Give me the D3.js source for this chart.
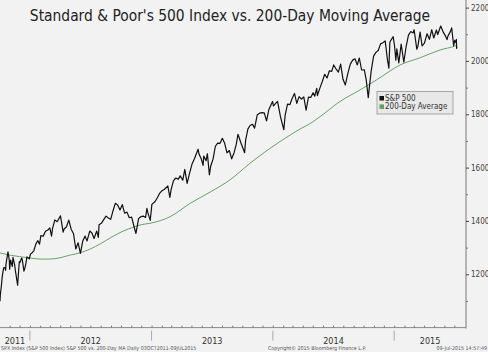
<!DOCTYPE html>
<html><head><meta charset="utf-8">
<script src="https://cdn.jsdelivr.net/npm/d3@7"></script>
<style>
html,body{margin:0;padding:0;background:#f2f2f2;}
svg{display:block;}
text{font-family:"DejaVu Sans Condensed","DejaVu Sans",sans-serif;font-stretch:condensed;}
</style></head>
<body>
<svg id="c" width="488" height="352"></svg>
<script>
const spxDates = ["2011-10-03","2011-10-04","2011-10-07","2011-10-10","2011-10-14","2011-10-18","2011-10-20","2011-10-21","2011-10-27","2011-10-31","2011-11-01","2011-11-04","2011-11-09","2011-11-11","2011-11-16","2011-11-18","2011-11-25","2011-11-30","2011-12-02","2011-12-07","2011-12-09","2011-12-14","2011-12-16","2011-12-20","2011-12-23","2011-12-30",
"2012-01-03","2012-01-06","2012-01-13","2012-01-19","2012-01-25","2012-01-30","2012-02-03","2012-02-10","2012-02-17","2012-02-24","2012-03-01","2012-03-06","2012-03-09","2012-03-16","2012-03-23","2012-04-02","2012-04-10","2012-04-13","2012-04-20","2012-04-27","2012-05-04","2012-05-11","2012-05-18","2012-05-25","2012-06-01","2012-06-08","2012-06-15","2012-06-21","2012-06-29","2012-07-06","2012-07-12","2012-07-20","2012-07-25","2012-07-27","2012-08-03","2012-08-10","2012-08-17","2012-08-24","2012-08-31","2012-09-07","2012-09-14","2012-09-21","2012-09-28","2012-10-05","2012-10-12","2012-10-19","2012-10-26","2012-11-02","2012-11-09","2012-11-15","2012-11-23","2012-11-30","2012-12-07","2012-12-14","2012-12-18","2012-12-21","2012-12-28",
"2013-01-02","2013-01-11","2013-01-18","2013-01-25","2013-02-01","2013-02-08","2013-02-19","2013-02-25","2013-03-01","2013-03-08","2013-03-15","2013-03-22","2013-03-28","2013-04-05","2013-04-11","2013-04-18","2013-04-26","2013-05-03","2013-05-10","2013-05-21","2013-05-24","2013-05-31","2013-06-05","2013-06-07","2013-06-14","2013-06-18","2013-06-24","2013-06-28","2013-07-05","2013-07-12","2013-07-19","2013-07-26","2013-08-02","2013-08-09","2013-08-16","2013-08-23","2013-08-30","2013-09-06","2013-09-13","2013-09-18","2013-09-27","2013-10-08","2013-10-11","2013-10-18","2013-10-25","2013-11-01","2013-11-07","2013-11-15","2013-11-22","2013-11-29","2013-12-06","2013-12-13","2013-12-20","2013-12-31",
"2014-01-03","2014-01-10","2014-01-15","2014-01-24","2014-02-03","2014-02-07","2014-02-14","2014-02-21","2014-02-28","2014-03-07","2014-03-14","2014-03-21","2014-03-28","2014-04-04","2014-04-11","2014-04-18","2014-04-25","2014-05-02","2014-05-07","2014-05-13","2014-05-15","2014-05-23","2014-05-30","2014-06-06","2014-06-13","2014-06-20","2014-06-27","2014-07-03","2014-07-11","2014-07-17","2014-07-24","2014-07-31","2014-08-07","2014-08-15","2014-08-22","2014-08-29","2014-09-05","2014-09-12","2014-09-18","2014-09-25","2014-10-03","2014-10-09","2014-10-15","2014-10-17","2014-10-24","2014-10-31","2014-11-07","2014-11-14","2014-11-21","2014-11-28","2014-12-05","2014-12-12","2014-12-16","2014-12-19","2014-12-29",
"2015-01-02","2015-01-06","2015-01-09","2015-01-15","2015-01-22","2015-01-30","2015-02-06","2015-02-13","2015-02-20","2015-02-27","2015-03-02","2015-03-10","2015-03-13","2015-03-20","2015-03-26","2015-04-02","2015-04-10","2015-04-17","2015-04-24","2015-04-30","2015-05-08","2015-05-12","2015-05-21","2015-05-29","2015-06-05","2015-06-09","2015-06-12","2015-06-19","2015-06-23","2015-06-29","2015-07-02","2015-07-06","2015-07-07","2015-07-08","2015-07-09"];
const spxCloses = [1099,1123,1155,1194,1224,1225,1215,1238,1284,1253,1219,1253,1229,1263,1236,1216,1159,1247,1244,1261,1255,1212,1219,1241,1265,1258,
1277,1278,1289,1314,1326,1313,1345,1343,1361,1366,1374,1343,1371,1404,1397,1419,1358,1370,1378,1403,1369,1353,1295,1318,1278,1325,1343,1325,1362,1354,1334,1362,1338,1386,1391,1405,1418,1411,1406,1438,1466,1460,1441,1461,1429,1433,1412,1414,1380,1353,1409,1416,1418,1413,1447,1430,1402,
1462,1472,1486,1503,1513,1518,1531,1488,1518,1551,1561,1556,1569,1553,1593,1541,1582,1614,1633,1669,1650,1631,1608,1643,1626,1652,1573,1606,1632,1680,1692,1691,1710,1691,1655,1664,1633,1655,1688,1725,1692,1656,1703,1745,1759,1762,1748,1798,1804,1806,1805,1775,1818,1848,
1831,1842,1848,1790,1742,1797,1838,1836,1859,1878,1841,1866,1857,1865,1815,1864,1863,1881,1868,1897,1870,1900,1924,1950,1936,1963,1961,1985,1968,1958,1988,1931,1910,1955,1988,2003,2008,1985,2011,1966,1967,1928,1862,1887,1964,2018,2032,2039,2064,2068,2075,2002,1973,2071,2091,
2058,2003,2045,1993,2063,1995,2055,2097,2110,2105,2117,2044,2053,2108,2056,2067,2102,2081,2117,2086,2116,2099,2131,2107,2092,2080,2094,2110,2124,2057,2077,2068,2081,2047,2052];

const maDates = ["2011-10-03","2011-11-01","2011-12-01","2012-01-01","2012-02-01","2012-03-01","2012-04-01","2012-05-01","2012-06-04","2012-07-01","2012-08-01","2012-09-01","2012-10-01","2012-11-01","2012-11-15","2012-12-01","2012-12-27","2013-02-26","2013-04-27","2013-06-26","2013-08-25","2013-10-24","2013-12-23","2014-02-22","2014-03-24","2014-04-23","2014-05-23","2014-07-22","2014-09-20","2014-11-09","2015-01-19","2015-03-20","2015-05-19","2015-07-03","2015-07-09"];
const maValues = [1280,1272,1266,1261,1257,1257,1262,1272,1282,1295,1315,1338,1358,1374,1380,1386,1391,1416,1466,1508,1554,1616,1672,1722,1745,1765,1791,1848,1891,1929,1985,2012,2041,2056,2059];

const yTicks = [1200,1400,1600,1800,2000,2200];
const yMinor = [1100,1300,1500,1700,1900,2100];
const yearLabels = ["2011","2012","2013","2014","2015"];

const legendLabels = ["S&P 500","200-Day Average"];
const titleText = "Standard & Poor's 500 Index vs. 200-Day Moving Average";
const footLeft = "SPX Index (S&P 500 Index) S&P 500 vs. 200-Day MA  Daily 03OCT2011-09JUL2015";
const footMid = "Copyright\u00a9 2015 Bloomberg Finance L.P.";
const footRight = "09-Jul-2015 14:57:49";

const parse = d3.timeParse("%Y-%m-%d");
const spx = spxDates.map((d,i)=>({date:parse(d), v:spxCloses[i]}));
const ma = maDates.map((d,i)=>({date:parse(d), v:maValues[i]}));

const svg = d3.select("#c");
const axisX = 466, bottomY = 327.6;
const x = d3.scaleTime().domain([parse("2011-10-03"), parse("2015-07-09")]).range([0, 457]);
const y = d3.scaleLinear().domain([1000, 2200]).range([bottomY, 7.6]);

svg.append("rect").attr("width",488).attr("height",352).attr("fill","#f2f2f2");

// title
svg.append("text").attr("x",230).attr("y",21).attr("text-anchor","middle")
  .attr("font-size",15.4).attr("fill","#222").text(titleText);

// right axis line
svg.append("line").attr("x1",axisX).attr("x2",axisX).attr("y1",0).attr("y2",bottomY+1)
  .attr("stroke","#8c8c8c").attr("stroke-width",1.2);
// bottom axis line
svg.append("line").attr("x1",0).attr("x2",axisX).attr("y1",bottomY).attr("y2",bottomY)
  .attr("stroke","#8c8c8c").attr("stroke-width",1);

// y ticks
const yAxisG = svg.append("g").attr("transform",`translate(${axisX},0)`);
yAxisG.call(d3.axisRight(y).tickValues(yTicks).tickSize(3).tickPadding(2).tickFormat(d3.format("d")));
yAxisG.select(".domain").remove();
yAxisG.selectAll(".tick line").attr("stroke","#444");
yAxisG.selectAll(".tick text").attr("font-size",8).attr("fill","#444")
  .attr("font-family","'DejaVu Sans Condensed','DejaVu Sans',sans-serif");
const yMinorG = svg.append("g").attr("transform",`translate(${axisX},0)`);
yMinorG.call(d3.axisRight(y).tickValues(yMinor).tickSize(2).tickFormat(""));
yMinorG.select(".domain").remove();
yMinorG.selectAll(".tick line").attr("stroke","#777");

// monthly ticks on bottom axis
const months = d3.timeMonth.range(parse("2011-10-01"), parse("2015-07-10")).filter(d=>x(d)>=0);
const xMinorG = svg.append("g").attr("transform",`translate(0,${bottomY})`);
xMinorG.call(d3.axisTop(x).tickValues(months).tickSize(2).tickFormat(""));
xMinorG.select(".domain").remove();
xMinorG.selectAll(".tick line").attr("stroke","#777");

// year separators & labels
const yearStarts = [parse("2012-01-01"),parse("2013-01-01"),parse("2014-01-01"),parse("2015-01-01")];
svg.selectAll(".ysep").data(yearStarts).enter().append("line")
  .attr("x1",d=>x(d)).attr("x2",d=>x(d)).attr("y1",bottomY+3).attr("y2",bottomY+13)
  .attr("stroke","#aaa").attr("stroke-width",1);
const bounds = [0, ...yearStarts.map(d=>x(d)), axisX];
svg.selectAll(".ylab").data(yearLabels).enter().append("text")
  .attr("x",(d,i)=>(bounds[i]+bounds[i+1])/2).attr("y",bottomY+16)
  .attr("text-anchor","middle").attr("font-size",9).attr("fill","#333").text(d=>d);

// footer
svg.append("text").attr("x",1).attr("y",350).attr("font-size",5.3).attr("fill","#555").text(footLeft);
svg.append("text").attr("x",317).attr("y",350).attr("text-anchor","middle").attr("font-size",5.3).attr("fill","#555").text(footMid);
svg.append("text").attr("x",487).attr("y",350).attr("text-anchor","end").attr("font-size",5.3).attr("fill","#555").text(footRight);

// lines
const line = d3.line().x(d=>x(d.date)).y(d=>y(d.v));
svg.append("path").datum(ma).attr("d",line.curve(d3.curveMonotoneX)).attr("fill","none")
  .attr("stroke","#66a366").attr("stroke-width",1);
svg.append("path").datum(spx).attr("d",d3.line().x(d=>x(d.date)).y(d=>y(d.v))).attr("fill","none")
  .attr("stroke","#111").attr("stroke-width",1.2).attr("stroke-linejoin","round");

// legend
const lg = svg.append("g");
lg.append("rect").attr("x",377).attr("y",91.5).attr("width",76).attr("height",22.5)
  .attr("fill","#e8e8e8").attr("stroke","#a5a5a5").attr("stroke-width",1);
const legendColors = ["#111","#5f9f62"];
legendLabels.forEach((t,i)=>{
  lg.append("rect").attr("x",379.5).attr("y",96+i*8.4).attr("width",4.5).attr("height",4.5).attr("fill",legendColors[i]);
  lg.append("text").attr("x",385).attr("y",100.8+i*8.4).attr("font-size",8).attr("fill","#333").text(t);
});
</script>
</body></html>
